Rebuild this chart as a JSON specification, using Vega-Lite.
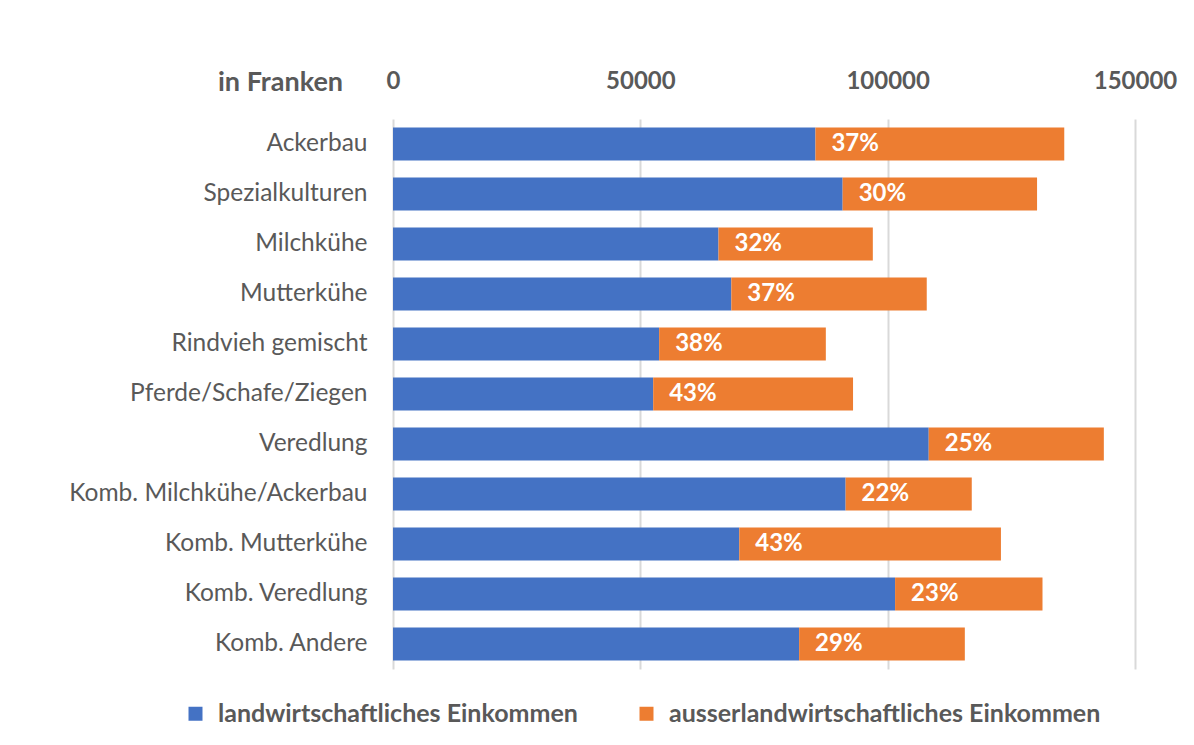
{
  "$schema": "https://vega.github.io/schema/vega-lite/v6.json",
  "autosize": {"type": "none"},
  "padding": {"left": 393, "top": 119, "right": 59, "bottom": 76},
  "width": 742,
  "height": 550,
  "background": "white",
  "config": {
    "view": {"stroke": null},
    "font": "Lato",
    "axis": {"labelFont": "Lato", "titleFont": "Lato"},
    "legend": {"labelFont": "Lato"}
  },
  "data": {
    "values": [
      {"Betriebstyp": "Ackerbau", "landwirtschaftliches Einkommen": 85400, "ausserlandwirtschaftliches Einkommen": 50300, "Anteil": "37%"},
      {"Betriebstyp": "Spezialkulturen", "landwirtschaftliches Einkommen": 90900, "ausserlandwirtschaftliches Einkommen": 39300, "Anteil": "30%"},
      {"Betriebstyp": "Milchkühe", "landwirtschaftliches Einkommen": 65800, "ausserlandwirtschaftliches Einkommen": 31200, "Anteil": "32%"},
      {"Betriebstyp": "Mutterkühe", "landwirtschaftliches Einkommen": 68400, "ausserlandwirtschaftliches Einkommen": 39500, "Anteil": "37%"},
      {"Betriebstyp": "Rindvieh gemischt", "landwirtschaftliches Einkommen": 53800, "ausserlandwirtschaftliches Einkommen": 33700, "Anteil": "38%"},
      {"Betriebstyp": "Pferde/Schafe/Ziegen", "landwirtschaftliches Einkommen": 52600, "ausserlandwirtschaftliches Einkommen": 40400, "Anteil": "43%"},
      {"Betriebstyp": "Veredlung", "landwirtschaftliches Einkommen": 108300, "ausserlandwirtschaftliches Einkommen": 35400, "Anteil": "25%"},
      {"Betriebstyp": "Komb. Milchkühe/Ackerbau", "landwirtschaftliches Einkommen": 91500, "ausserlandwirtschaftliches Einkommen": 25500, "Anteil": "22%"},
      {"Betriebstyp": "Komb. Mutterkühe", "landwirtschaftliches Einkommen": 70000, "ausserlandwirtschaftliches Einkommen": 52900, "Anteil": "43%"},
      {"Betriebstyp": "Komb. Veredlung", "landwirtschaftliches Einkommen": 101500, "ausserlandwirtschaftliches Einkommen": 29800, "Anteil": "23%"},
      {"Betriebstyp": "Komb. Andere", "landwirtschaftliches Einkommen": 82100, "ausserlandwirtschaftliches Einkommen": 33500, "Anteil": "29%"}
    ]
  },
  "encoding": {
    "y": {
      "field": "Betriebstyp",
      "type": "nominal",
      "sort": null,
      "scale": {"paddingInner": 0.34, "paddingOuter": 0.17},
      "axis": {
        "title": null,
        "ticks": false,
        "domain": false,
        "labelFontSize": 24.5,
        "labelColor": "#595959",
        "labelPadding": 26,
        "labelLimit": 500
      }
    }
  },
  "layer": [
    {
      "transform": [
        {"fold": ["landwirtschaftliches Einkommen", "ausserlandwirtschaftliches Einkommen"], "as": ["Einkommen", "Franken"]}
      ],
      "mark": {"type": "bar"},
      "encoding": {
        "x": {
          "field": "Franken",
          "type": "quantitative",
          "stack": "zero",
          "scale": {"domain": [0, 150000], "nice": false},
          "axis": {
            "orient": "top",
            "values": [0, 50000, 100000, 150000],
            "format": "d",
            "grid": true,
            "gridColor": "#d9d9d9",
            "gridWidth": 2,
            "domain": false,
            "ticks": false,
            "tickSize": 0,
            "labelFontSize": 24,
            "labelFontWeight": "bold",
            "labelColor": "#595959",
            "labelPadding": 26,
            "labelFlush": false,
            "title": "in Franken",
            "titleX": -113,
            "titleY": -37,
            "titleAlign": "center",
            "titleBaseline": "middle",
            "titleFontSize": 27,
            "titleFontWeight": "bold",
            "titleColor": "#595959"
          }
        },
        "color": {
          "field": "Einkommen",
          "type": "nominal",
          "scale": {
            "domain": ["landwirtschaftliches Einkommen", "ausserlandwirtschaftliches Einkommen"],
            "range": ["#4472C4", "#ED7D31"]
          },
          "legend": {
            "orient": "none",
            "direction": "horizontal",
            "legendX": -210,
            "legendY": 582,
            "title": null,
            "symbolType": "square",
            "symbolSize": 196,
            "symbolStrokeWidth": 0,
            "labelFontSize": 25,
            "labelFontWeight": "bold",
            "labelColor": "#595959",
            "labelOffset": 10,
            "columnPadding": 56,
            "labelLimit": 700
          }
        },
        "order": {"field": "Einkommen", "sort": "descending"}
      }
    },
    {
      "mark": {"type": "text", "align": "left", "baseline": "middle", "dx": 16, "color": "white", "fontSize": 24, "fontWeight": "bold"},
      "encoding": {
        "x": {"field": "landwirtschaftliches Einkommen", "type": "quantitative"},
        "text": {"field": "Anteil", "type": "nominal"}
      }
    }
  ]
}
